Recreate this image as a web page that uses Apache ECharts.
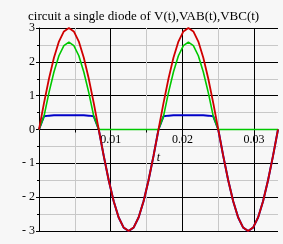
<!DOCTYPE html>
<html>
<head>
<meta charset="utf-8">
<script src="https://cdn.jsdelivr.net/npm/echarts@6/dist/echarts.min.js"></script>
<style>
html,body{margin:0;padding:0;background:#f7f7f7;}
#c{width:283px;height:244px;}
</style>
</head>
<body>
<div id="c"></div>
<script>
const titleText = 'circuit a single diode of V(t),VAB(t),VBC(t)';
const xName = 't';
const tValues = [0, 0.000694, 0.001389, 0.002083, 0.002778, 0.003472, 0.004167, 0.004861, 0.005556, 0.00625,
  0.006944, 0.007639, 0.008333, 0.009028, 0.009722, 0.010417, 0.011111, 0.011806, 0.0125, 0.013194,
  0.013889, 0.014583, 0.015278, 0.015972, 0.016667, 0.017361, 0.018056, 0.01875, 0.019444, 0.020139,
  0.020833, 0.021528, 0.022222, 0.022917, 0.023611, 0.024306, 0.025, 0.025694, 0.026389, 0.027083,
  0.027778, 0.028472, 0.029167, 0.029861, 0.030556, 0.03125, 0.031944, 0.032639, 0.033333];
const vValues = [0, 0.78, 1.5, 2.12, 2.6, 2.9, 3, 2.9, 2.6, 2.12, 1.5, 0.78, 0,
  -0.78, -1.5, -2.12, -2.6, -2.9, -3, -2.9, -2.6, -2.12, -1.5, -0.78, 0,
  0.78, 1.5, 2.12, 2.6, 2.9, 3, 2.9, 2.6, 2.12, 1.5, 0.78, 0,
  -0.78, -1.5, -2.12, -2.6, -2.9, -3, -2.9, -2.6, -2.12, -1.5, -0.78, 0];
const vabValues = [0, 0.39, 1.09, 1.7, 2.18, 2.48, 2.58, 2.48, 2.18, 1.7, 1.09, 0.39, 0,
  0, 0, 0, 0, 0, 0, 0, 0, 0, 0, 0, 0,
  0.39, 1.09, 1.7, 2.18, 2.48, 2.58, 2.48, 2.18, 1.7, 1.09, 0.39, 0,
  0, 0, 0, 0, 0, 0, 0, 0, 0, 0, 0, 0];
const vbcValues = [0, 0.39, 0.41, 0.42, 0.42, 0.42, 0.42, 0.42, 0.42, 0.42, 0.41, 0.39, 0,
  -0.78, -1.5, -2.12, -2.6, -2.9, -3, -2.9, -2.6, -2.12, -1.5, -0.78, 0,
  0.39, 0.41, 0.42, 0.42, 0.42, 0.42, 0.42, 0.42, 0.42, 0.41, 0.39, 0,
  -0.78, -1.5, -2.12, -2.6, -2.9, -3, -2.9, -2.6, -2.12, -1.5, -0.78, 0];
const xTickLabels = ['0.01', '0.02', '0.03'];
const yTickLabels = ['- 3', '- 2', '- 1', '0', '1', '2', '3'];

const pairs = (ys) => tValues.map((t, i) => [t, ys[i]]);
const font = '"Liberation Serif", "DejaVu Serif", serif';

const chart = echarts.init(document.getElementById('c'), null, {renderer: 'canvas'});
chart.setOption({
  backgroundColor: '#f7f7f7',
  animation: false,
  title: {
    text: titleText, left: 23, top: 5,
    textStyle: {fontFamily: font, fontSize: 13, fontWeight: 'normal', color: '#000'}
  },
  grid: {left: 39, right: 5, top: 28, bottom: 13},
  xAxis: {
    type: 'value', min: 0, max: 0.033333, interval: 0.01,
    position: 'bottom', offset: -101.5,
    name: xName, nameLocation: 'middle', nameGap: 22,
    nameTextStyle: {fontFamily: font, fontSize: 12, fontStyle: 'italic', color: '#000'},
    axisLine: {onZero: false, lineStyle: {color: '#000', width: 1}},
    axisTick: {show: false},
    minorTick: {show: true, splitNumber: 2, length: 3, lineStyle: {color: '#000'}},
    minorSplitLine: {show: true, lineStyle: {color: '#c8c8c8', width: 1}},
    axisLabel: {
      fontFamily: font, fontSize: 12, color: '#000', margin: 4,
      showMinLabel: false, showMaxLabel: false,
      formatter: (v) => {
        const k = Math.round(v / 0.01);
        return (k >= 1 && Math.abs(v - k * 0.01) < 1e-6) ? xTickLabels[k - 1] : '';
      }
    },
    splitLine: {show: true, showMaxLine: false, lineStyle: {color: '#000', width: 1}}
  },
  yAxis: {
    type: 'value', min: -3, max: 3, interval: 1,
    axisLine: {show: true, onZero: false, lineStyle: {color: '#000', width: 1}},
    axisTick: {show: true, length: 3, lineStyle: {color: '#000'}},
    minorTick: {show: true, splitNumber: 2, length: 2, lineStyle: {color: '#000'}},
    minorSplitLine: {show: true, lineStyle: {color: '#c8c8c8', width: 1}},
    axisLabel: {
      fontFamily: font, fontSize: 12, color: '#000', margin: 4,
      formatter: (v) => yTickLabels[Math.round(v) + 3]
    },
    splitLine: {show: true, lineStyle: {color: '#000', width: 1}}
  },
  series: [
    {name: 'VBC(t)', type: 'line', data: pairs(vbcValues), showSymbol: false, z: 3,
      lineStyle: {color: '#0000c8', width: 2}},
    {name: 'VAB(t)', type: 'line', data: pairs(vabValues), showSymbol: false, z: 4,
      lineStyle: {color: '#00c800', width: 1.6}},
    {name: 'V(t)', type: 'line', data: pairs(vValues), showSymbol: false, z: 5,
      lineStyle: {color: '#d00000', width: 1.8}}
  ]
});
</script>
</body>
</html>
